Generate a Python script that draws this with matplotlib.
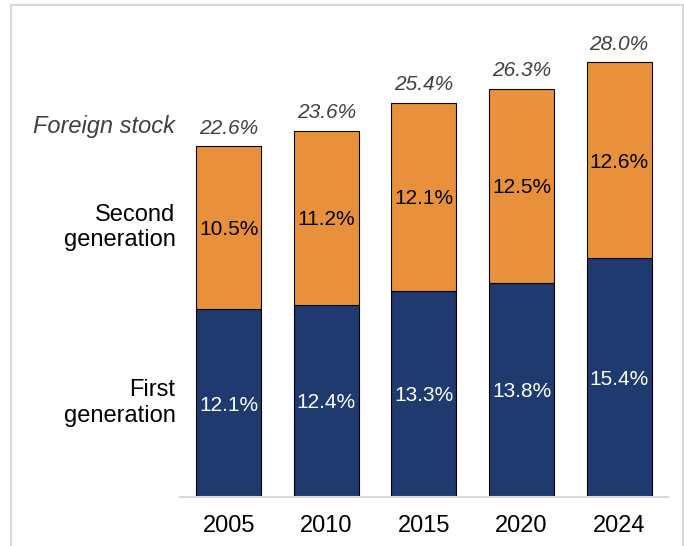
import numpy as np
import matplotlib
matplotlib.use('Agg')
import matplotlib.pyplot as plt
from matplotlib.patches import Rectangle

plt.rcParams['font.family'] = ['Liberation Sans', 'DejaVu Sans']

years = ['2005', '2010', '2015', '2020', '2024']
first_gen = [12.1, 12.4, 13.3, 13.8, 15.4]
second_gen = [10.5, 11.2, 12.1, 12.5, 12.6]
foreign_stock = [22.6, 23.6, 25.4, 26.3, 28.0]

navy = '#1f3a6e'
orange = '#e8913a'

fig = plt.figure(figsize=(6.84, 5.46), dpi=100)
ax = fig.add_axes([0.263, 0.0897, 0.7136, 0.853])

x = np.arange(len(years))
w = 0.667
ax.bar(x, first_gen, w, color=navy, edgecolor='black', linewidth=0.8)
ax.bar(x, second_gen, w, bottom=first_gen, color=orange, edgecolor='black', linewidth=0.8)

for i in range(len(years)):
    ax.text(x[i], first_gen[i] / 2, f'{first_gen[i]:.1f}%', ha='center', va='center_baseline',
            color='white', fontsize=15)
    ax.text(x[i], first_gen[i] + second_gen[i] / 2, f'{second_gen[i]:.1f}%', ha='center',
            va='center_baseline', color='black', fontsize=15)
    ax.annotate(f'{foreign_stock[i]:.1f}%', (x[i], first_gen[i] + second_gen[i]),
                xytext=(0, 13), textcoords='offset points', ha='center', va='center',
                color='#404040', fontsize=15, style='italic')

# series names to the left of the first bar
lx = -0.545
ax.annotate('Foreign stock', (lx, first_gen[0] + second_gen[0]), xytext=(0, 14),
            textcoords='offset points', ha='right', va='center', color='#404040',
            fontsize=17, style='italic', annotation_clip=False)
ax.text(lx, first_gen[0] + second_gen[0] / 2, 'Second\ngeneration', ha='right', va='center',
        fontsize=17, linespacing=1.2)
ax.text(lx, first_gen[0] / 2, 'First\ngeneration', ha='right', va='center',
        fontsize=17, linespacing=1.2)

ax.set_xlim(-0.5, 4.5)
ax.set_ylim(0, 30)
ax.set_xticks(x)
ax.set_xticklabels(years, fontsize=17)
ax.tick_params(axis='x', length=0, pad=13)
ax.set_yticks([])
for s in ['top', 'right', 'left']:
    ax.spines[s].set_visible(False)
ax.spines['bottom'].set_color('#d9d9d9')
ax.spines['bottom'].set_linewidth(1.5)

# light frame around the chart
fig.patches.append(Rectangle((11 / 684, -0.05), 672 / 684, 1.05 - 5 / 546,
                             transform=fig.transFigure, fill=False,
                             edgecolor='#d9d9d9', linewidth=1.5))

fig.savefig('out.png', dpi=100)
